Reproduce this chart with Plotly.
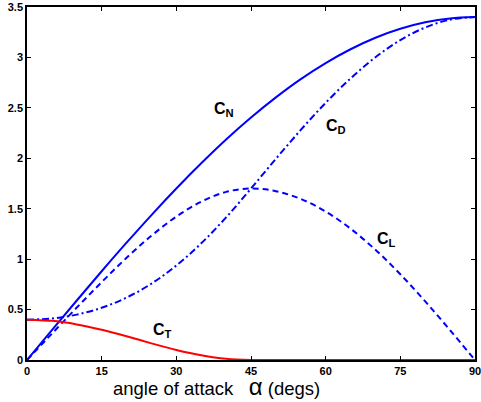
import plotly.graph_objects as go

alpha = [0, 5, 10, 15, 20, 25, 30, 35, 40, 45, 50, 55, 60, 65, 70, 75, 80, 85, 90]
c_n = [0, 0.296, 0.590, 0.880, 1.163, 1.437, 1.700, 1.950, 2.186, 2.404, 2.604,
       2.785, 2.944, 3.081, 3.195, 3.284, 3.348, 3.387, 3.400]
c_l = [0, 0.261, 0.520, 0.772, 1.013, 1.232, 1.422, 1.570, 1.667, 1.700, 1.674,
       1.597, 1.472, 1.302, 1.093, 0.850, 0.581, 0.295, 0]
c_d = [0.400, 0.412, 0.450, 0.518, 0.619, 0.757, 0.937, 1.157, 1.414, 1.700, 1.995,
       2.281, 2.550, 2.792, 3.002, 3.172, 3.297, 3.374, 3.400]
c_t = [0.400, 0.388, 0.353, 0.300, 0.235, 0.165, 0.100, 0.047, 0.012, 0, 0,
       0, 0, 0, 0, 0, 0, 0, 0]

x_ticks = [0, 15, 30, 45, 60, 75, 90]
y_ticks = [0, 0.5, 1, 1.5, 2, 2.5, 3, 3.5]
y_tick_text = ["0", "0.5", "1", "1.5", "2", "2.5", "3", "3.5"]

labels = [
    ("C<sub>N</sub>", 39.5, 2.48),
    ("C<sub>D</sub>", 62.0, 2.32),
    ("C<sub>L</sub>", 72.3, 1.19),
    ("C<sub>T</sub>", 27.2, 0.29),
]

blue = "#0000ff"
red = "#ff0000"

fig = go.Figure()
fig.add_trace(go.Scatter(x=alpha, y=c_n, mode="lines",
                         line=dict(color=blue, width=2, shape="spline")))
fig.add_trace(go.Scatter(x=alpha, y=c_d, mode="lines",
                         line=dict(color=blue, width=2, shape="spline",
                                   dash="7px,3px,2px,3px")))
fig.add_trace(go.Scatter(x=alpha, y=c_l, mode="lines",
                         line=dict(color=blue, width=2, shape="spline",
                                   dash="6px,4px")))
fig.add_trace(go.Scatter(x=alpha, y=c_t, mode="lines",
                         line=dict(color=red, width=2, shape="spline", smoothing=0.6)))

for txt, x, y in labels:
    fig.add_annotation(x=x, y=y, text="<b>" + txt + "</b>", showarrow=False,
                       font=dict(family="Liberation Sans, Arial", size=16, color="black"))

fig.add_annotation(xref="paper", yref="paper", x=0.422, y=-0.074,
                   xanchor="center", yanchor="middle", showarrow=False,
                   text="angle of attack&nbsp;&nbsp;&nbsp;<span style='font-size:24px'>\u03b1</span> (degs)",
                   font=dict(family="Liberation Sans, Arial", size=18.5, color="black"))

axis_common = dict(showgrid=False, zeroline=False, showline=True, linecolor="black",
                   linewidth=1.5, mirror="ticks", ticks="inside", ticklen=4,
                   tickwidth=1, tickcolor="black", automargin=False,
                   ticklabeloverflow="allow",
                   tickfont=dict(family="Liberation Sans, Arial", size=11, color="black"))

fig.update_layout(
    width=481, height=402,
    margin=dict(l=27, r=6, t=7, b=42),
    paper_bgcolor="white", plot_bgcolor="white",
    showlegend=False,
    xaxis=dict(range=[0, 90], tickvals=x_ticks,
               ticktext=["<b>%d</b>" % v for v in x_ticks], **axis_common),
    yaxis=dict(range=[0, 3.5], tickvals=y_ticks,
               ticktext=["<b>%s</b>" % t for t in y_tick_text], **axis_common),
)

fig.write_html("out.html", config={"displayModeBar": False},
               post_script="document.body.style.margin='0';document.body.style.overflow='hidden';")
